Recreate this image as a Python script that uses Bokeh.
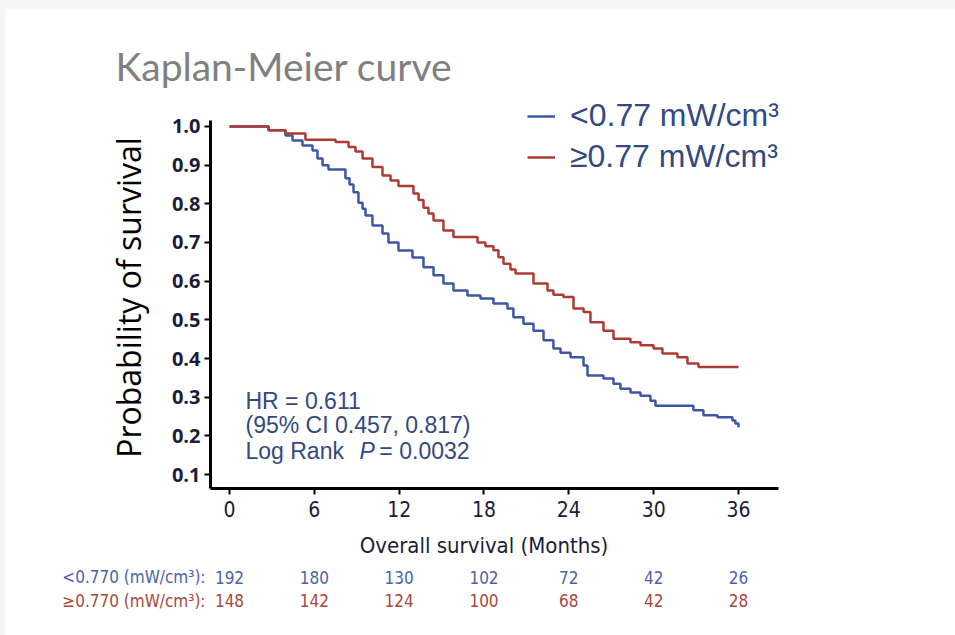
from bokeh.plotting import figure
from bokeh.models import Range1d, FixedTicker, Label, Legend, LegendItem, NumeralTickFormatter
from bokeh.embed import file_html
from bokeh.resources import INLINE

# ---- data ----
low_t = [0, 2.76, 3.96, 4.46, 5.16, 5.87, 6.22, 6.58, 7.00, 8.20, 8.49, 8.77, 9.12, 9.41, 9.62,
         10.11, 10.82, 11.24, 11.95, 12.94, 13.72, 14.43, 15.13, 15.84, 16.83, 17.75, 18.67,
         19.66, 20.08, 20.79, 21.50, 22.21, 22.91, 23.41, 24.12, 25.04, 25.32, 26.45, 27.16,
         27.65, 28.36, 29.07, 29.77, 30.13, 32.81, 33.52, 34.51, 35.57, 35.78, 36.0]
low_s = [1.0, 0.99, 0.977, 0.964, 0.951, 0.938, 0.917, 0.90, 0.889, 0.866, 0.85, 0.83, 0.803,
         0.787, 0.77, 0.744, 0.723, 0.70, 0.679, 0.661, 0.636, 0.615, 0.594, 0.576, 0.563, 0.555,
         0.542, 0.529, 0.507, 0.49, 0.472, 0.447, 0.426, 0.415, 0.403, 0.382, 0.356, 0.348, 0.335,
         0.322, 0.312, 0.304, 0.291, 0.278, 0.266, 0.253, 0.248, 0.24, 0.232, 0.222]

high_t = [0, 2.76, 3.96, 5.37, 7.50, 8.42, 8.91, 9.41, 10.11, 10.82, 11.39, 11.95, 13.01, 13.37,
          13.72, 14.07, 14.43, 15.13, 15.84, 17.54, 18.10, 18.67, 19.02, 19.38, 19.87, 20.23,
          21.50, 22.49, 22.91, 23.62, 24.33, 25.04, 25.53, 26.45, 27.16, 28.36, 29.07, 29.99,
          30.62, 31.68, 32.39, 33.17, 36.0]
high_s = [1.0, 0.99, 0.982, 0.966, 0.96, 0.947, 0.935, 0.917, 0.895, 0.873, 0.86, 0.846, 0.827,
          0.81, 0.79, 0.775, 0.757, 0.731, 0.714, 0.70, 0.69, 0.68, 0.662, 0.645, 0.63, 0.62,
          0.594, 0.576, 0.565, 0.559, 0.529, 0.52, 0.494, 0.472, 0.451, 0.442, 0.434, 0.426,
          0.413, 0.403, 0.387, 0.378, 0.378]

x_ticks = [0, 6, 12, 18, 24, 30, 36]
y_ticks = [0.1, 0.2, 0.3, 0.4, 0.5, 0.6, 0.7, 0.8, 0.9, 1.0]
risk_low = [192, 180, 130, 102, 72, 42, 26]
risk_high = [148, 142, 124, 100, 68, 42, 28]
series_names = ["<0.77 mW/cm³", "≥0.77 mW/cm³"]
risk_names = ["<0.770 (mW/cm³):", "≥0.770 (mW/cm³):"]
stats_lines = ["HR = 0.611", "(95% CI 0.457, 0.817)"]

BLUE = "#3d57a6"
RED = "#ad3b33"
TBLUE = "#4d62a8"
TRED = "#a8473c"
NAVY = "#34497f"
COND = "'DejaVu Sans Condensed', 'Roboto'"

# plotting region: months 0..36 span page x 229..738; survival 1.0..0.1 span page y 126..474
X0, X1 = -1.344, 38.83      # ends of the x axis line
Y0, Y1 = 0.0638, 1.0155     # ends of the y axis line

p = figure(width=950, height=627, output_backend="svg", toolbar_location=None,
           x_range=Range1d(-15.843, 51.348), y_range=Range1d(-0.3163, 1.3051),
           min_border_left=0, min_border_right=0, min_border_top=0, min_border_bottom=0,
           margin=(8, 0, 0, 5))
p.xgrid.visible = False
p.ygrid.visible = False
p.outline_line_color = None
p.border_fill_color = "white"
p.background_fill_color = "white"

rb = p.step(low_t, low_s, mode="after", line_color=BLUE, line_width=2.5)
rr = p.step(high_t, high_s, mode="after", line_color=RED, line_width=2.5)

for ax in (p.xaxis[0], p.yaxis[0]):
    ax.axis_line_width = 3
    ax.axis_line_color = "black"
    ax.major_tick_line_width = 2
    ax.major_tick_line_color = "black"
    ax.major_tick_out = 6
    ax.major_tick_in = 0
    ax.minor_tick_out = 0
    ax.minor_tick_in = 0
    ax.major_label_text_color = "#1c1c3a"

p.yaxis.fixed_location = X0
p.yaxis.bounds = (Y0, Y1)
p.yaxis.ticker = FixedTicker(ticks=y_ticks)
p.yaxis.formatter = NumeralTickFormatter(format="0.0")
p.yaxis.major_label_text_font = "Open Sans"
p.yaxis.major_label_text_font_size = "20px"
p.yaxis.major_label_text_font_style = "bold"
p.yaxis.major_label_standoff = 4

p.xaxis.fixed_location = Y0
p.xaxis.bounds = (X0, X1)
p.xaxis.ticker = FixedTicker(ticks=x_ticks)
p.xaxis.major_label_text_font = COND
p.xaxis.major_label_text_font_size = "21px"
p.xaxis.major_label_standoff = 6

# titles
p.add_layout(Label(x=-8.06, y=1.1577, text="Kaplan-Meier curve", text_align="left",
                   text_baseline="middle", text_font="Lato", text_font_size="39px",
                   text_color="#808080"))
p.add_layout(Label(x=-7.14, y=0.5578, text="Probability of survival", angle=90, angle_units="deg",
                   text_align="center", text_baseline="middle", text_font="Open Sans",
                   text_font_size="32px", text_color="black"))
p.add_layout(Label(x=18, y=-0.0835, text="Overall survival (Months)", text_align="center",
                   text_baseline="middle", text_font=COND, text_font_size="22px",
                   text_color="#1c1c3a"))

# stats text
for yy, txt in ((0.2914, stats_lines[0]), (0.2268, stats_lines[1]), (0.1621, "Log Rank")):
    p.add_layout(Label(x=1.13, y=yy, text=txt, text_baseline="middle",
                       text_font="Liberation Sans", text_font_size="23px", text_color=NAVY))
p.add_layout(Label(x=9.2, y=0.1621, text="P", text_baseline="middle", text_font_style="italic",
                   text_font="Liberation Sans", text_font_size="23px", text_color=NAVY))
p.add_layout(Label(x=10.6, y=0.1621, text="= 0.0032", text_baseline="middle",
                   text_font="Liberation Sans", text_font_size="23px", text_color=NAVY))

# numbers at risk
for row_y, name, counts, col in ((-0.1663, risk_names[0], risk_low, TBLUE),
                                 (-0.2258, risk_names[1], risk_high, TRED)):
    p.add_layout(Label(x=-1.697, y=row_y, text=name, text_align="right", text_baseline="middle",
                       text_font=COND, text_font_size="17px", text_color=col))
    for tk, c in zip(x_ticks, counts):
        p.add_layout(Label(x=tk, y=row_y, text=str(c), text_align="center", text_baseline="middle",
                           text_font=COND, text_font_size="17px", text_color=col))

legend = Legend(items=[LegendItem(label=series_names[0], renderers=[rb]),
                       LegendItem(label=series_names[1], renderers=[rr])],
                location=(522, 460), label_text_font="Liberation Sans", label_text_font_size="32px",
                label_text_color=NAVY, glyph_width=28, glyph_height=30, label_height=30,
                spacing=4, padding=0, margin=0, border_line_color=None,
                background_fill_alpha=0, label_standoff=15)
p.add_layout(legend)

html = file_html(p, INLINE, title="Kaplan-Meier curve")
html = html.replace("</head>",
                    "<style>html, body { background: #f5f5f5 !important; overflow: hidden; }</style></head>", 1)
open("out.html", "w").write(html)
